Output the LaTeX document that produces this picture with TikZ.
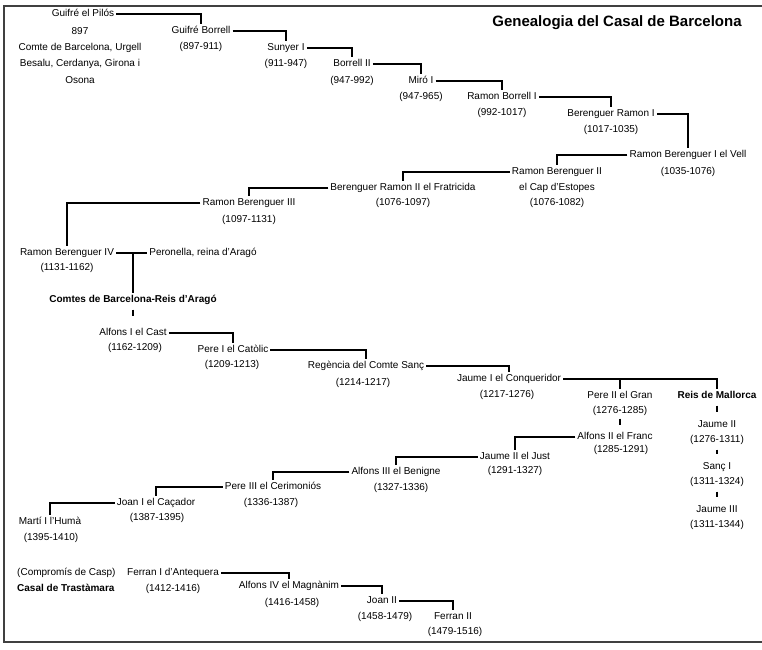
\documentclass[tikz,border=0pt]{standalone}
\usepackage{fontspec}
\setmainfont{Liberation Sans}
\begin{document}
\begin{tikzpicture}[x=1pt, y=-1pt,
    every node/.style={inner sep=2pt, text height=7pt, text depth=2pt,
      font=\fontsize{10}{12}\selectfont},
    heavy/.style={font=\fontsize{10}{12}\selectfont\bfseries},
    link/.style={line width=1.1pt},
    tick/.style={line width=1.1pt, shorten <=3pt, shorten >=6pt}]
    \useasboundingbox (0,0) rectangle (762,649);
    % frame, open on the right
    \draw[line width=1.6pt, black!75] (762,6) -- (4,6) -- (4,642) -- (762,642);
    \node[font=\fontsize{15}{18}\selectfont\bfseries, text height=11pt, text depth=3pt] (title) at (617,22) {Genealogia del Casal de Barcelona};

    % first counts, going down to the right
    \node (gp) at (83,14) {Guifré el Pilós};
    \node[align=center, anchor=north, text height={}, text depth={},
      font=\fontsize{10}{16.4}\selectfont] (gpd) at (80,25)
      {897\\Comte de Barcelona, Urgell\\Besalu, Cerdanya, Girona i\\Osona};
    \node (gb) at (201,31) {Guifré Borrell};
    \node (gbd) at (201,47) {(897-911)};
    \node (su) at (286,48) {Sunyer I};
    \node (sud) at (286,64) {(911-947)};
    \node (bo) at (352,64) {Borrell II};
    \node (bod) at (352,81) {(947-992)};
    \node (mi) at (421,81) {Miró I};
    \node (mid) at (421,97) {(947-965)};
    \node (rb) at (502,97) {Ramon Borrell I};
    \node (rbd) at (502,113) {(992-1017)};
    \node (br) at (611,114) {Berenguer Ramon I};
    \node (brd) at (611,130) {(1017-1035)};
    \node (rb1) at (688,155) {Ramon Berenguer I el Vell};
    \node (rb1d) at (688,172) {(1035-1076)};
    \draw[link] (gp.east) -| (gb.north);
    \draw[link] (gb.east) -| (su.north);
    \draw[link] (su.east) -| (bo.north);
    \draw[link] (bo.east) -| (mi.north);
    \draw[link] (mi.east) -| (rb.north);
    \draw[link] (rb.east) -| (br.north);
    \draw[link] (br.east) -| (rb1.north);

    % going back to the left
    \node (rb2) at (557,172) {Ramon Berenguer II};
    \node (rb2e) at (557,188) {el Cap d'Estopes};
    \node (rb2d) at (557,203) {(1076-1082)};
    \node (br2) at (403,188) {Berenguer Ramon II el Fratricida};
    \node (br2d) at (403,203) {(1076-1097)};
    \node (rb3) at (249,203) {Ramon Berenguer III};
    \node (rb3d) at (249,220) {(1097-1131)};
    \node (rb4) at (67,253) {Ramon Berenguer IV};
    \node (rb4d) at (67,268) {(1131-1162)};
    \node (pe) at (203,253) {Peronella, reina d'Aragó};
    \coordinate (wed) at (133,253);
    \draw[link] (rb1.west) -| (rb2.north);
    \draw[link] (rb2.west) -| (br2.north);
    \draw[link] (br2.west) -| (rb3.north);
    \draw[link] (rb3.west) -| (rb4.north);
    \draw[link] (rb4.east) -- (pe.west);

    % counts of Barcelona and kings of Aragon
    \node[heavy] (cb) at (133,300) {Comtes de Barcelona-Reis d'Aragó};
    \draw[link] (wed) -- (cb.north);
    \node (a1) at (133,333) {Alfons I el Cast};
    \node (a1d) at (135,348) {(1162-1209)};
    \node (p1) at (233,350) {Pere I el Catòlic};
    \node (p1d) at (232,365) {(1209-1213)};
    \node (rs) at (366,366) {Regència del Comte Sanç};
    \node (rsd) at (363,383) {(1214-1217)};
    \node (j1) at (509,379) {Jaume I el Conqueridor};
    \node (j1d) at (507,395) {(1217-1276)};
    \node (p2) at (620,396) {Pere II el Gran};
    \node (p2d) at (620,411) {(1276-1285)};
    \draw[tick, shorten >=10pt] (cb.south) -- (a1.north);
    \draw[link] (a1.east) -| (p1.north);
    \draw[link] (p1.east) -| (rs.north);
    \draw[link] (rs.east) -| (j1.north);
    \draw[link] (j1.east -| p2.north) -- (p2.north);

    % kings of Mallorca
    \node[heavy] (rm) at (717,396) {Reis de Mallorca};
    \node (jm2) at (717,425) {Jaume II};
    \node (jm2d) at (717,440) {(1276-1311)};
    \node (sm) at (717,467) {Sanç I};
    \node (smd) at (717,482) {(1311-1324)};
    \node (jm3) at (717,510) {Jaume III};
    \node (jm3d) at (717,525) {(1311-1344)};
    \draw[link] (j1.east) -| (rm.north);
    \draw[tick] (rm.south) -- (jm2.north);
    \draw[tick] (jm2d.south) -- (sm.north);
    \draw[tick] (smd.south) -- (jm3.north);

    % back to the left again
    \node (a2) at (615,437) {Alfons II el Franc};
    \node (a2d) at (621,450) {(1285-1291)};
    \node (j2) at (515,457) {Jaume II el Just};
    \node (j2d) at (515,471) {(1291-1327)};
    \node (a3) at (396,472) {Alfons III el Benigne};
    \node (a3d) at (401,488) {(1327-1336)};
    \node (p3) at (273,487) {Pere III el Cerimoniós};
    \node (p3d) at (271,503) {(1336-1387)};
    \node (jo1) at (156,503) {Joan I el Caçador};
    \node (jo1d) at (157,518) {(1387-1395)};
    \node (ma) at (50,522) {Martí I l'Humà};
    \node (mad) at (51,538) {(1395-1410)};
    \draw[tick, shorten <=1pt, shorten >=5pt] (p2d.south) -- (p2d.south |- a2.north);
    \draw[link] (a2.west) -| (j2.north);
    \draw[link] (j2.west) -| (a3.north);
    \draw[link] (a3.west) -| (p3.north);
    \draw[link] (p3.west) -| (jo1.north);
    \draw[link] (jo1.west) -| (ma.north);

    % Trastamara
    \node[anchor=west] (cc) at (15,573) {(Compromís de Casp)};
    \node[heavy, anchor=west] (ct) at (15,589) {Casal de Trastàmara};
    \node (f1) at (173,573) {Ferran I d'Antequera};
    \node (f1d) at (173,589) {(1412-1416)};
    \node (a4) at (289,586) {Alfons IV el Magnànim};
    \node (a4d) at (292,603) {(1416-1458)};
    \node (jo2) at (382,601) {Joan II};
    \node (jo2d) at (385,617) {(1458-1479)};
    \node (f2) at (453,617) {Ferran II};
    \node (f2d) at (455,632) {(1479-1516)};
    \draw[link] (f1.east) -| (a4.north);
    \draw[link] (a4.east) -| (jo2.north);
    \draw[link] (jo2.east) -| (f2.north);
\end{tikzpicture}
\end{document}
